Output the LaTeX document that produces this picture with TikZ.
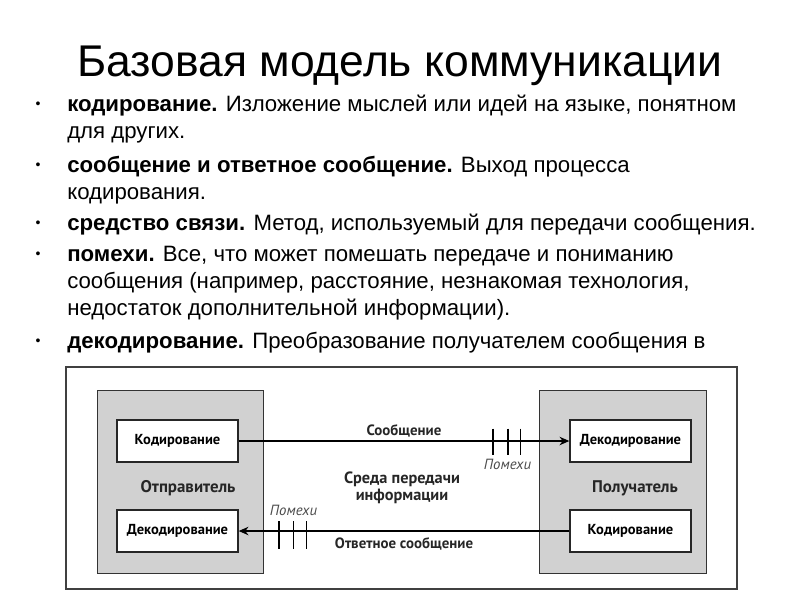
\documentclass[tikz,border=0pt]{standalone}
\usepackage{fontspec}
\setmainfont{Liberation Sans}
\newfontfamily\diagfont{PT Sans}
\usetikzlibrary{arrows.meta}

\begin{document}
\begin{tikzpicture}[x=0.025cm,y=-0.025cm,
  bul/.style={anchor=base west,inner sep=0pt,font=\fontsize{15.8}{19}\selectfont},
  dot/.style={anchor=base,inner sep=0pt,font=\fontsize{10}{10}\selectfont},
  side/.style={draw=black!80,fill=black!18,line width=0.7pt,minimum width=4.15cm,minimum height=4.55cm,inner sep=0pt},
  stage/.style={draw=black!85,fill=white,line width=0.9pt,minimum width=3.025cm,minimum height=1.05cm,inner sep=0pt,font=\diagfont\bfseries\fontsize{10.3}{11}\selectfont},
  role/.style={font=\diagfont\bfseries\fontsize{12}{12.5}\selectfont,text=black!85},
  lbl/.style={font=\diagfont\bfseries\fontsize{10.6}{11}\selectfont,text=black!85},
  noise/.style={font=\diagfont\itshape\fontsize{10.5}{11}\selectfont,text=black!70},
  msg/.style={line width=0.9pt,-{Stealth[length=7pt,width=6pt]}}
]
\useasboundingbox[fill=white] (0,0) rectangle (800,600);

\node[anchor=base,font=\fontsize{31.6}{34}\selectfont] (title) at (400,76) {Базовая модель коммуникации};

% one node per printed line
\node[bul] (b1) at (67,111) {\textbf{кодирование.} Изложение мыслей или идей на языке, понятном};
\node[bul] (b1x) at (67,138) {для других.};
\node[bul] (b2) at (67,172) {\textbf{сообщение и ответное сообщение.} Выход процесса};
\node[bul] (b2x) at (67,199) {кодирования.};
\node[bul] (b3) at (67,230) {\textbf{средство связи.} Метод, используемый для передачи сообщения.};
\node[bul] (b4) at (67,261) {\textbf{помехи.} Все, что может помешать передаче и пониманию};
\node[bul] (b4x) at (67,288) {сообщения (например, расстояние, незнакомая технология,};
\node[bul] (b4y) at (67,315) {недостаток дополнительной информации).};
\node[bul] (b5) at (67,348) {\textbf{декодирование.} Преобразование получателем сообщения в};
\foreach \y in {111,172,230,261,348}
  \node[dot] at (38,\y-3) {\textbullet};

\draw[black!75,line width=1pt,fill=white] (66,367) rectangle (737,589);

\node[side] (sender) at (180.5,482) {};
\node[side] (receiver) at (623,482) {};

\node[stage] (kodL) at (177.5,441) {Кодирование};
\node[stage] (dekL) at (177.5,531) {Декодирование};
\node[stage] (dekR) at (630.5,441) {Декодирование};
\node[stage] (kodR) at (630.5,531) {Кодирование};

\node[role] (snd) at (188,488) {Отправитель};
\node[role] (rcv) at (635,488) {Получатель};
\node[role,align=center,font=\diagfont\bfseries\fontsize{11.6}{12}\selectfont] (medium) at (402,488) {Среда передачи\\информации};

\draw[msg] (kodL) -- (dekR) node[lbl,pos=0.5,above=-1pt] (msgtop) {Сообщение};
\draw[msg] (kodR) -- (dekL) node[lbl,pos=0.5,below=1pt] (msgbot) {Ответное сообщение};

\foreach \x in {493,508,520.5}
  \draw[line width=0.9pt] (\x,428.5) -- (\x,455);
\foreach \x in {279,293.5,306.5}
  \draw[line width=0.9pt] (\x,521) -- (\x,549);
\node[noise] (n1) at (507.5,464.5) {Помехи};
\node[noise] (n2) at (293.5,510.7) {Помехи};
\end{tikzpicture}
\end{document}
